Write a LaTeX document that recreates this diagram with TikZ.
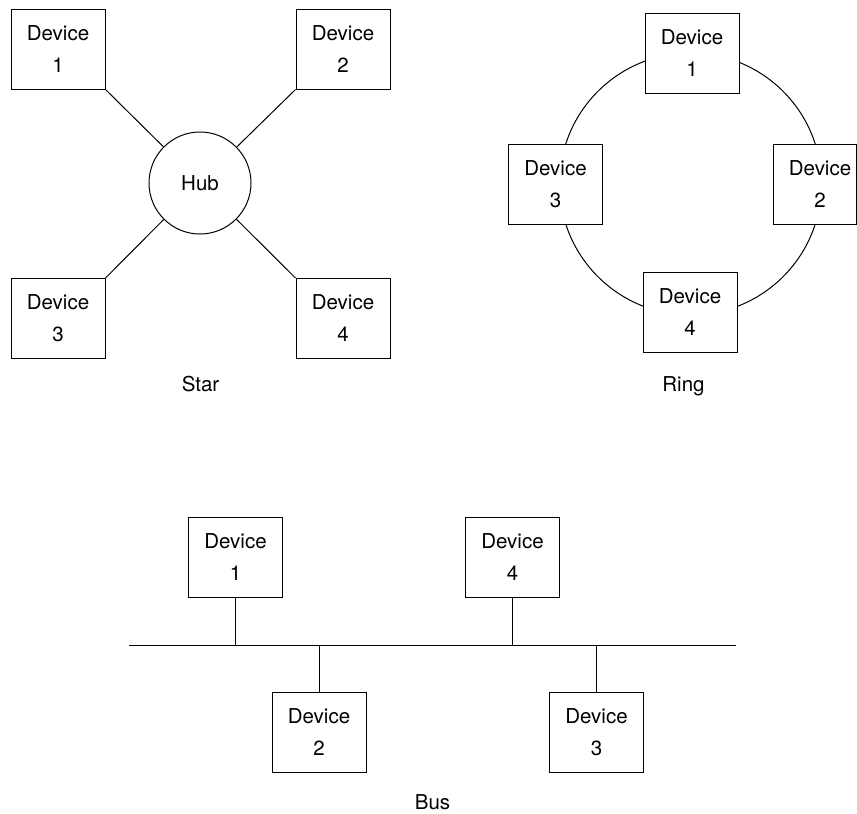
\documentclass[tikz,border=0pt]{standalone}
\usepackage{fontspec}
\setmainfont{TeX Gyre Heros}
\begin{document}
\begin{tikzpicture}[x=1pt,y=-1pt,line width=1pt,
  devtext/.style={align=center,inner sep=0pt,font=\fontsize{20.5}{32}\selectfont},
  dev/.style={devtext,draw,fill=white,minimum width=94pt,minimum height=80pt},
  lbl/.style={font=\fontsize{20.5}{24}\selectfont,anchor=base,inner sep=0pt}]
\useasboundingbox (0,0) rectangle (857,814);
% ---------- Star ----------
\node[draw,circle,minimum size=102pt,inner sep=0pt,font=\fontsize{20.5}{24}\selectfont] (hub) at (200,183) {Hub};
\node[dev] (s1) at (58,49) {Device\\1};
\node[dev] (s2) at (343,49) {Device\\2};
\node[dev] (s3) at (58,318.5) {Device\\3};
\node[dev] (s4) at (343,318.5) {Device\\4};
\draw (s1.south east) -- (hub);
\draw (s2.south west) -- (hub);
\draw (s3.north east) -- (hub);
\draw (s4.north west) -- (hub);
\node[lbl] (starlbl) at (200.5,391) {Star};
% ---------- Ring ----------
\coordinate (ringc) at (690.5,184);
\draw (ringc) circle[radius=131];
\node[dev] (r1) at (692,53) {Device\\1};
\node[dev,minimum width=83pt] (r2) at (814.5,184) {};
\node[devtext] (r2t) at (820,184) {Device\\2};
\node[dev] (r3) at (555.5,184) {Device\\3};
\node[dev] (r4) at (690,312) {Device\\4};
\node[lbl] (ringlbl) at (683.5,391) {Ring};
% ---------- Bus ----------
\coordinate (busL) at (129,645.7);
\coordinate (busR) at (736,645.7);
\draw (busL) -- (busR);
\node[dev] (b1) at (235.5,557.5) {Device\\1};
\node[dev] (b4) at (512.5,557.5) {Device\\4};
\node[dev] (b2) at (319,732.5) {Device\\2};
\node[dev] (b3) at (596.5,732.5) {Device\\3};
\draw (b1.south) -- (b1.south |- busL);
\draw (b4.south) -- (b4.south |- busL);
\draw (b2.north) -- (b2.north |- busL);
\draw (b3.north) -- (b3.north |- busL);
\node[lbl] (buslbl) at (432.5,809.5) {Bus};
\end{tikzpicture}
\end{document}
